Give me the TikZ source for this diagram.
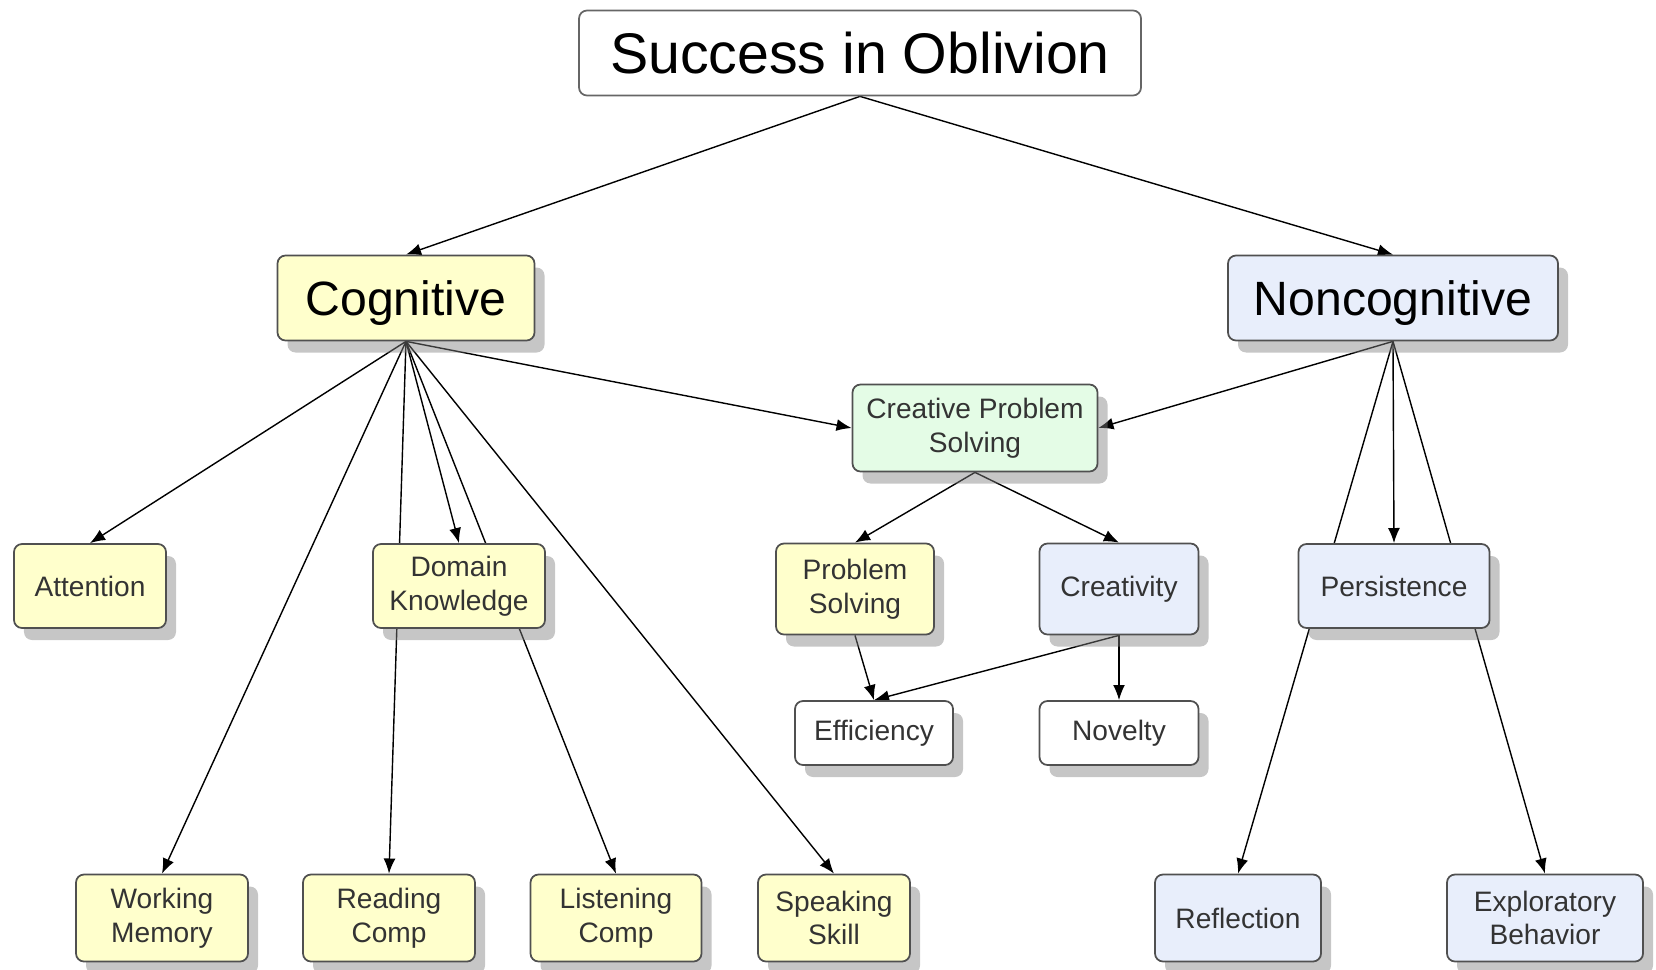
\documentclass[tikz,border=0pt]{standalone}
\usepackage{fontspec}
\setmainfont{Liberation Sans}
\usetikzlibrary{arrows.meta,shadows,backgrounds}

\definecolor{cogyellow}{HTML}{FFFFCC}
\definecolor{noncogblue}{HTML}{E8EEFB}
\definecolor{cpsgreen}{HTML}{E4FCE6}
\definecolor{boxline}{HTML}{505050}

\begin{document}
\begin{tikzpicture}[
    box/.style={rectangle, draw=boxline, line width=0.5pt, rounded corners=0.08cm, align=center, inner sep=0pt, font=\fontsize{8}{9.6}\selectfont, text=black!80},
    shadowbox/.style={box, drop shadow={shadow xshift=0.1cm, shadow yshift=-0.12cm, opacity=0.45}},
    ybox/.style={shadowbox, fill=cogyellow},
    bbox/.style={shadowbox, fill=noncogblue},
    gbox/.style={shadowbox, fill=cpsgreen},
    wbox/.style={shadowbox, fill=white},
    big/.style={font=\fontsize{13.7}{16}\selectfont, text=black, text depth=0pt},
    arrow/.style={-{Latex[length=4.3pt,width=3.4pt]}, line width=0.4pt}
]
    \useasboundingbox (0,0) rectangle (16.56,-9.70);

    \node[box, fill=white, draw=black!60, font=\fontsize{16.3}{19}\selectfont, text=black, minimum width=5.62cm, minimum height=0.85cm] (root) at (8.60,-0.53) {Success in Oblivion};

    \node[ybox, big, minimum width=2.57cm, minimum height=0.85cm] (cog) at (4.06,-2.98) {Cognitive};
    \node[bbox, big, minimum width=3.30cm, minimum height=0.85cm] (noncog) at (13.93,-2.98) {Noncognitive};
    \node[gbox, minimum width=2.45cm, minimum height=0.87cm] (cps) at (9.75,-4.28) {Creative Problem\\Solving};

    \node[ybox, minimum width=1.52cm, minimum height=0.84cm] (att) at (0.90,-5.86) {Attention};
    \node[ybox, minimum width=1.72cm, minimum height=0.84cm] (dom) at (4.59,-5.86) {Domain\\Knowledge};
    \node[ybox, minimum width=1.58cm, minimum height=0.91cm] (ps) at (8.55,-5.89) {Problem\\Solving};
    \node[bbox, minimum width=1.59cm, minimum height=0.91cm] (crea) at (11.19,-5.89) {Creativity};
    \node[bbox, minimum width=1.91cm, minimum height=0.84cm] (pers) at (13.94,-5.86) {Persistence};

    \node[wbox, minimum width=1.58cm, minimum height=0.64cm] (eff) at (8.74,-7.33) {Efficiency};
    \node[wbox, minimum width=1.59cm, minimum height=0.64cm] (nov) at (11.19,-7.33) {Novelty};

    \node[ybox, minimum width=1.72cm, minimum height=0.87cm] (wm) at (1.62,-9.18) {Working\\Memory};
    \node[ybox, minimum width=1.72cm, minimum height=0.87cm] (rc) at (3.89,-9.18) {Reading\\Comp};
    \node[ybox, minimum width=1.71cm, minimum height=0.87cm] (lc) at (6.16,-9.18) {Listening\\Comp};
    \node[ybox, minimum width=1.52cm, minimum height=0.87cm] (ss) at (8.34,-9.18) {Speaking\\Skill};
    \node[bbox, minimum width=1.66cm, minimum height=0.87cm] (refl) at (12.38,-9.18) {Reflection};
    \node[bbox, minimum width=1.96cm, minimum height=0.87cm] (expl) at (15.45,-9.18) {Exploratory\\Behavior};

    \begin{scope}[on background layer]
    \draw[arrow] (root.south) -- (cog.north);
    \draw[arrow] (root.south) -- (noncog.north);
    \draw[arrow] (cog.south) -- (att.north);
    \draw[arrow] (cog.south) -- (wm.north);
    \draw[arrow] (cog.south) -- (dom.north);
    \draw[arrow] (cog.south) -- (rc.north);
    \draw[arrow] (cog.south) -- (lc.north);
    \draw[arrow] (cog.south) -- (ss.north);
    \draw[arrow] (cog.south) -- (cps.west);
    \draw[arrow] (noncog.south) -- (cps.east);
    \draw[arrow] (noncog.south) -- (pers.north);
    \draw[arrow] (noncog.south) -- (refl.north);
    \draw[arrow] (noncog.south) -- (expl.north);
    \draw[arrow] (cps.south) -- (ps.north);
    \draw[arrow] (cps.south) -- (crea.north);
    \draw[arrow] (ps.south) -- (eff.north);
    \draw[arrow] (crea.south) -- (eff.north);
    \draw[arrow] (crea.south) -- (nov.north);
    \end{scope}
\end{tikzpicture}
\end{document}
